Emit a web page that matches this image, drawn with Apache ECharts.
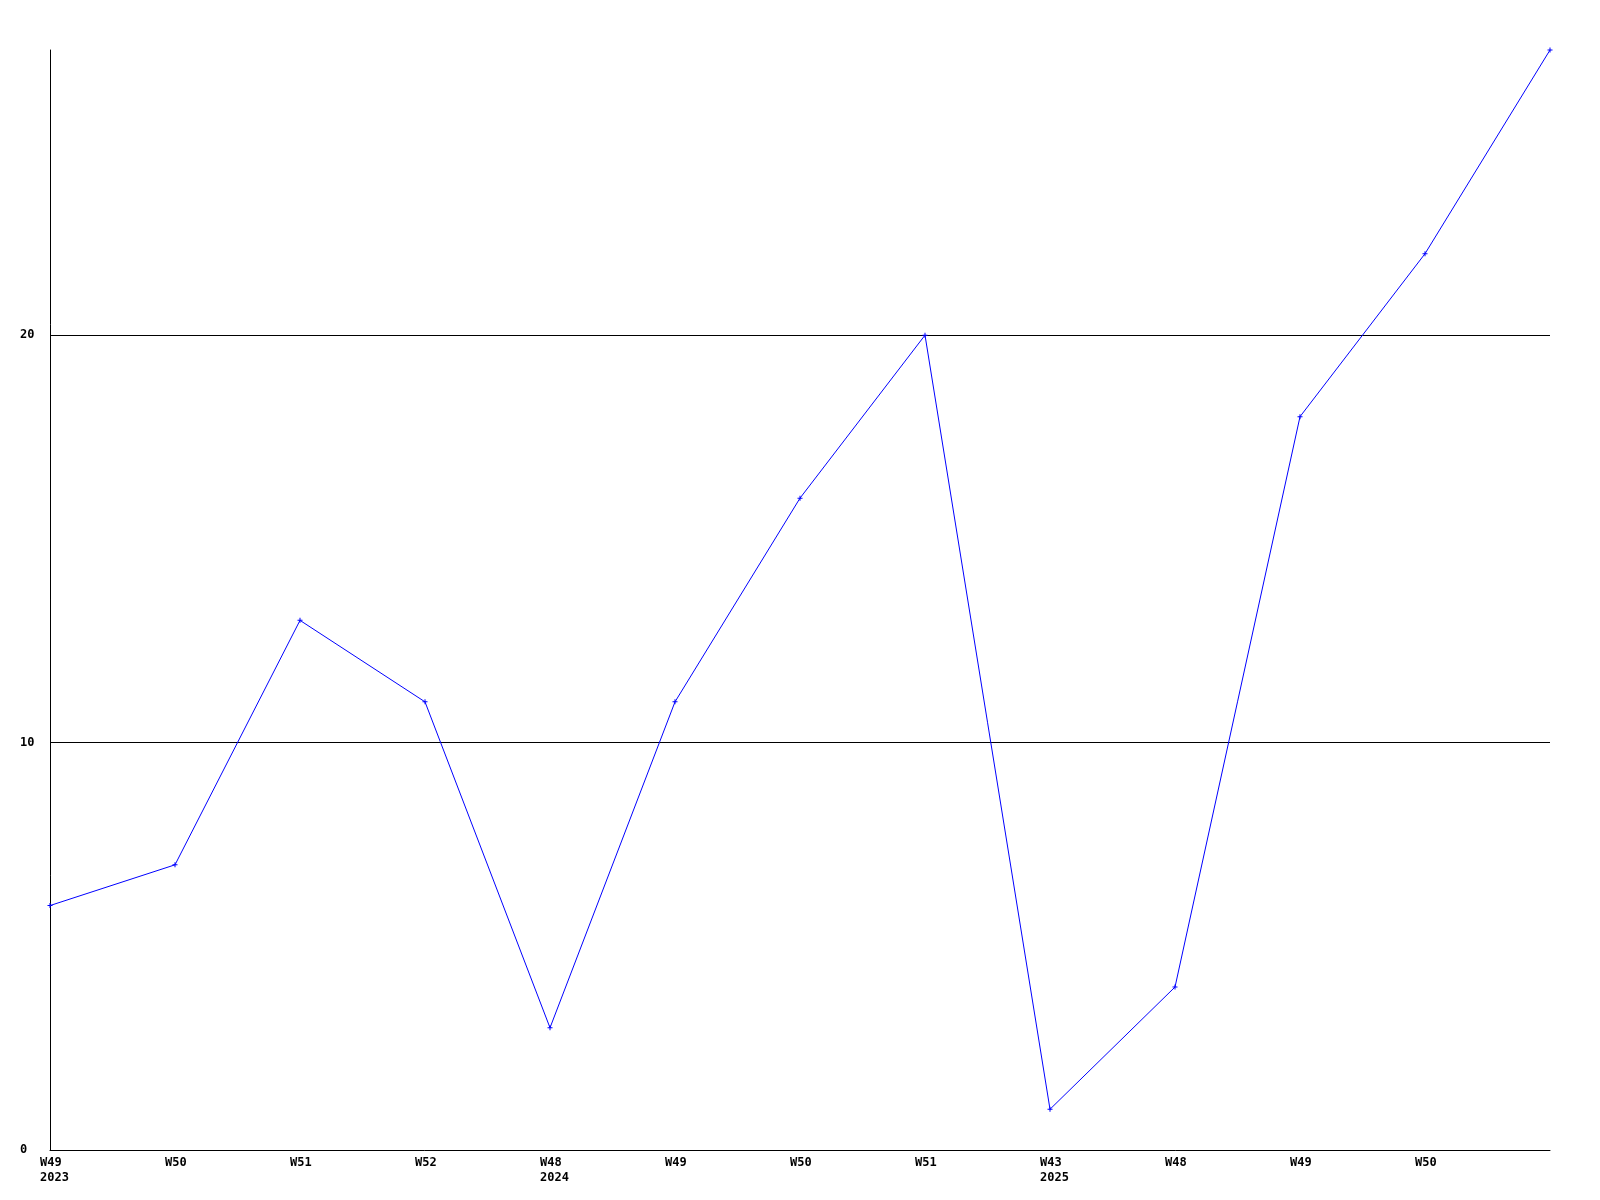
<!DOCTYPE html>
<html>
<head>
<meta charset="utf-8">
<script src="https://cdn.jsdelivr.net/npm/echarts@6/dist/echarts.min.js"></script>
<style>html,body{margin:0;padding:0;background:#fff;}#c{width:1600px;height:1200px;}</style>
</head>
<body>
<div id="c"></div>
<script>
const categories = ['W49\n2023','W50','W51','W52','W48\n2024','W49','W50','W51','W43\n2025','W48','W49','W50',''];
const values = [6, 7, 13, 11, 3, 11, 16, 20, 1, 4, 18, 22, 27];
const yMin = 0, yMax = 27, yStep = 10;

const font = { fontFamily: 'DejaVu Sans Mono', fontWeight: 'bold', fontSize: 12, color: '#000' };
const chart = echarts.init(document.getElementById('c'), null, { renderer: 'canvas' });
chart.setOption({
  animation: false,
  backgroundColor: '#fff',
  grid: { left: 50, right: 50, top: 50, bottom: 50, containLabel: false },
  xAxis: {
    type: 'category', data: categories, boundaryGap: false,
    axisLine: { show: true, lineStyle: { color: '#000', width: 1 } },
    axisTick: { show: false },
    axisLabel: Object.assign({ align: 'left', margin: 5, lineHeight: 15, padding: [0, 0, 0, -10], interval: 0 }, font),
    splitLine: { show: false }
  },
  yAxis: {
    type: 'value', min: yMin, max: yMax, interval: yStep,
    axisLine: { show: true, lineStyle: { color: '#000', width: 1 } },
    axisTick: { show: false },
    axisLabel: Object.assign({ align: 'left', margin: 30, showMaxLabel: false }, font),
    splitLine: { show: true, showMinLine: false, showMaxLine: false, lineStyle: { color: '#000', width: 1 } }
  },
  series: [{
    type: 'line', data: values,
    lineStyle: { color: '#0000ff', width: 1 },
    itemStyle: { color: '#0000ff' },
    symbol: 'path://M2,0L3,0L3,2L5,2L5,3L3,3L3,5L2,5L2,3L0,3L0,2L2,2Z',
    symbolSize: 5,
    showAllSymbol: true
  }]
});
</script>
</body>
</html>
